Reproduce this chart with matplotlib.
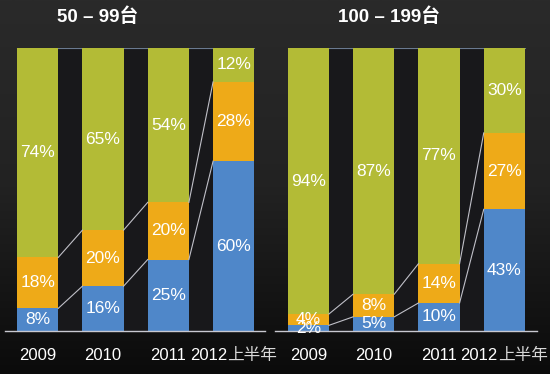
import matplotlib
matplotlib.use("Agg")
import matplotlib.pyplot as plt
import numpy as np
from matplotlib.colors import LinearSegmentedColormap

years = ["2009", "2010", "2011", "2012"]
suffix = "上半年"
titles = ["50 – 99台", "100 – 199台"]
blue_vals = [[8, 16, 25, 60], [2, 5, 10, 43]]
orange_vals = [[18, 20, 20, 28], [4, 8, 14, 27]]
green_vals = [[74, 65, 54, 12], [94, 87, 77, 30]]

C_BLUE = "#4f87c9"
C_ORANGE = "#eeaa18"
C_GREEN = "#b3bb36"

W, H = 550, 374
fig = plt.figure(figsize=(W / 100, H / 100), dpi=100)

# background gradient
bg = fig.add_axes([0, 0, 1, 1], zorder=-10)
grad = np.linspace(0, 1, 256).reshape(-1, 1)
cmap = LinearSegmentedColormap.from_list("bg", ["#2a2a2a", "#222222", "#0b0b0b"])
bg.imshow(grad, aspect="auto", cmap=cmap, extent=[0, 1, 0, 1], origin="upper")
bg.set_axis_off()

y0 = (H - 331) / H
y1 = (H - 48) / H
panels = [
    dict(left=5, right=265, xlim=(-0.5, 3.48), tx=97.5),
    dict(left=275, right=537, xlim=(-0.51, 3.5), tx=389),
]
bw = 0.63
latin = ["Liberation Sans", "Noto Sans CJK SC"]

for p, pan in enumerate(panels):
    ax = fig.add_axes([pan["left"] / W, y0, (pan["right"] - pan["left"]) / W, y1 - y0])
    ax.set_facecolor("none")
    ax.set_xlim(*pan["xlim"])
    ax.set_ylim(0, 100)
    x = np.arange(len(years))
    b = np.array(blue_vals[p], float)
    o = np.array(orange_vals[p], float)
    g = np.array(green_vals[p], float)
    tot = b + o + g
    bn, on, gn = b / tot * 100, o / tot * 100, g / tot * 100
    # dark plot area between bars
    ax.add_patch(plt.Rectangle((x[0] - bw / 2, 0), x[-1] - x[0] + bw, 100,
                               facecolor="#18181b", edgecolor="none", zorder=0))
    ax.plot([x[0] - bw / 2, x[-1] + bw / 2], [100, 100], color="#6a7a90", lw=0.8, zorder=1)
    ax.bar(x, bn, bw, color=C_BLUE, zorder=2)
    ax.bar(x, on, bw, bottom=bn, color=C_ORANGE, zorder=2)
    ax.bar(x, gn, bw, bottom=bn + on, color=C_GREEN, zorder=2)
    c1 = bn
    c2 = bn + on
    for i in range(len(x) - 1):
        for c in (c1, c2):
            ax.plot([x[i] + bw / 2, x[i + 1] - bw / 2], [c[i], c[i + 1]],
                    color="#c0c0c8", lw=0.8, zorder=3)
    for i in range(len(x)):
        for val, bot, h in ((b[i], 0, bn[i]), (o[i], bn[i], on[i]), (g[i], bn[i] + on[i], gn[i])):
            ax.text(x[i], bot + h / 2, f"{int(val)}%", ha="center", va="center",
                    color="white", fontsize=12.5, family=latin, zorder=4)
    for s in ("left", "right", "top"):
        ax.spines[s].set_visible(False)
    ax.spines["bottom"].set_color("#c8c8d0")
    ax.spines["bottom"].set_linewidth(1.0)
    ax.set_xticks([])
    ax.set_yticks([])
    for i, yr in enumerate(years):
        if i < len(years) - 1:
            ax.text(x[i], -8.5, yr, ha="center", va="center", color="white",
                    fontsize=12, family=latin, clip_on=False)
        else:
            ax.text(x[i] - 0.1, -8.5, yr, ha="right", va="center", color="white",
                    fontsize=12, family=latin, clip_on=False)
            ax.text(x[i] - 0.1, -8.5, suffix, ha="left", va="center", color="#d8d8d8",
                    fontsize=12, family=["Noto Sans CJK SC"], fontweight="light",
                    clip_on=False)
    fig.text(pan["tx"] / W, 1 - 17 / H, titles[p], ha="center", va="center",
             color="white", fontsize=13.5, fontweight="bold", family=latin)

fig.savefig("out.png", dpi=100, facecolor="#1a1a1a")
